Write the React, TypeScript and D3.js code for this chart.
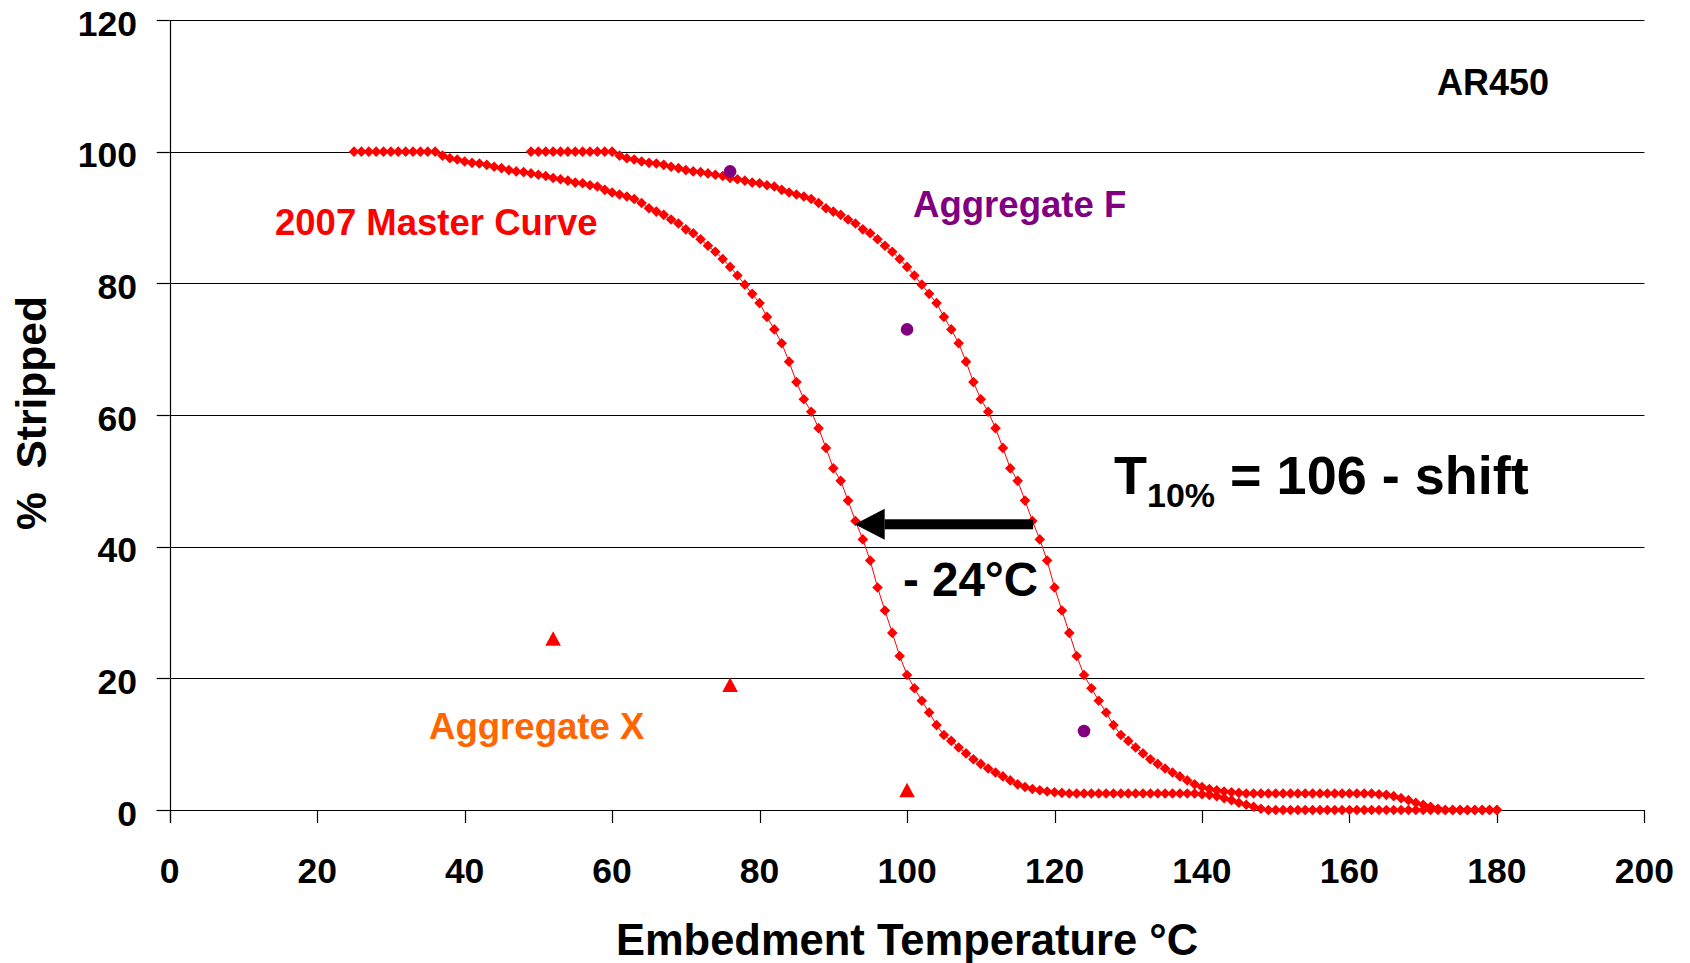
import React from "react";
import * as d3 from "d3";

// ---- Data ----
// 2007 Master Curve (right curve), x from 49 to 180 step 1
const masterStart = 49;
const masterCurve = [
  100, 100, 100, 100, 100, 100, 100, 100, 100, 100, 100, 100, // 49-60
  99.4, 99.0, 98.8, 98.5, 98.3, 98.2, 98.0, 97.7, 97.5, 97.2, // 61-70
  97.0, 96.9, 96.7, 96.5, 96.3, 96.0, 95.8, 95.6, 95.3, 95.2, // 71-80
  94.9, 94.7, 94.2, 93.8, 93.5, 93.2, 92.8, 92.2, 91.4, 90.9, // 81-90
  90.4, 89.7, 89.1, 88.2, 87.6, 86.7, 85.7, 84.8, 83.7, 82.5, // 91-100
  81.2, 79.8, 78.4, 77.0, 74.9, 73.0, 70.9, 68.1, 65.0, 62.4, // 101-110
  60.5, 58.0, 55.0, 51.9, 50.0, 47.0, 43.9, 41.1, 37.9, 33.8, // 111-120
  30.3, 26.9, 23.4, 20.5, 18.5, 16.6, 14.8, 12.9, 11.4, 10.5, // 121-130
  9.5, 8.6, 7.7, 7.0, 6.3, 5.7, 5.1, 4.5, 3.9, 3.5,           // 131-140
  3.2, 3.0, 2.8, 2.7, 2.6, 2.5, 2.5, 2.5, 2.5, 2.5,           // 141-150
  2.5, 2.5, 2.5, 2.5, 2.5, 2.5, 2.5, 2.5, 2.5, 2.5,           // 151-160
  2.5, 2.5, 2.5, 2.4, 2.3, 2.1, 1.8, 1.5, 1.1, 0.8,           // 161-170
  0.5, 0.2, 0, 0, 0, 0, 0, 0, 0, 0,                           // 171-180
];

// Shifted curve (-24 °C), x from 25 to 180 step 1
const shiftedStart = 25;
const shiftedCurve = [
  100, 100, 100, 100, 100, 100, 100, 100, 100, 100, 100, 100, // 25-36
  99.4, 99.0, 98.8, 98.5, 98.3, 98.2, 98.0, 97.7, 97.5, 97.2, // 37-46
  97.0, 96.9, 96.7, 96.5, 96.3, 96.0, 95.8, 95.6, 95.3, 95.2, // 47-56
  94.9, 94.7, 94.2, 93.8, 93.5, 93.2, 92.8, 92.2, 91.4, 90.9, // 57-66
  90.4, 89.7, 89.1, 88.2, 87.6, 86.7, 85.7, 84.8, 83.7, 82.5, // 67-76
  81.2, 79.8, 78.4, 77.0, 74.9, 73.0, 70.9, 68.1, 65.0, 62.4, // 77-86
  60.5, 58.0, 55.0, 51.9, 50.0, 47.0, 43.9, 41.1, 37.9, 33.8, // 87-96
  30.3, 26.9, 23.4, 20.5, 18.5, 16.6, 14.8, 12.9, 11.4, 10.5, // 97-106
  9.5, 8.6, 7.7, 7.0, 6.3, 5.7, 5.1, 4.5, 3.9, 3.5,           // 107-116
  3.2, 3.0, 2.8, 2.7, 2.6, 2.5, 2.5, 2.5, 2.5, 2.5,           // 117-126
  2.5, 2.5, 2.5, 2.5, 2.5, 2.5, 2.5, 2.5, 2.5, 2.5,           // 127-136
  2.5, 2.5, 2.5, 2.4, 2.3, 2.1, 1.8, 1.5, 1.1, 0.8,           // 137-146
  0.5, 0.2, 0, 0, 0, 0, 0, 0, 0, 0,                           // 147-156
  0, 0, 0, 0, 0, 0, 0, 0, 0, 0, 0, 0,                         // 157-168
  0, 0, 0, 0, 0, 0, 0, 0, 0, 0, 0, 0,                         // 169-180
];

const aggFTemps = [76, 100, 124];
const aggFValues = [97, 73, 12];

const aggXTemps = [52, 76, 100];
const aggXValues = [26, 19, 3];

const xTicks = [0, 20, 40, 60, 80, 100, 120, 140, 160, 180, 200];
const yTicks = [0, 20, 40, 60, 80, 100, 120];

const FONT = "'Liberation Sans', Arial, Helvetica, sans-serif";

export default function App() {
  const W = 1690;
  const H = 963;
  const x = d3.scaleLinear().domain([0, 200]).range([169.7, 1644.4]);
  const y = d3.scaleLinear().domain([0, 120]).range([810, 20]);

  const master = masterCurve.map((v, i) => [masterStart + i, v] as [number, number]);
  const shifted = shiftedCurve.map((v, i) => [shiftedStart + i, v] as [number, number]);

  const line = d3
    .line<[number, number]>()
    .x((d) => x(d[0]))
    .y((d) => y(d[1]));

  const dh = 5.3;
  const diamond = `M0,${-dh}L${dh},0L0,${dh}L${-dh},0Z`;
  const tri = `M0,-7.5L7.8,7L-7.8,7Z`;

  const x0 = x(0);
  const x1 = x(200);
  const yBase = y(0);

  const arrowY = y(43.4);
  const arrowTip = x(92.9);
  const arrowTail = x(117.1);

  return (
    <svg
      width={W}
      height={H}
      style={{ position: "absolute", left: 0, top: 0, background: "#fff" }}
      fontFamily={FONT}
    >
      <rect x={0} y={0} width={W} height={H} fill="#fff" />
      {/* gridlines */}
      {yTicks.slice(1).map((t) => (
        <line
          key={"g" + t}
          x1={x0}
          x2={x1}
          y1={Math.round(y(t)) + 0.5}
          y2={Math.round(y(t)) + 0.5}
          stroke="#000"
          strokeWidth={1}
        />
      ))}
      {/* axes */}
      <line x1={Math.round(x0) + 0.5} x2={Math.round(x0) + 0.5} y1={y(120)} y2={yBase + 13} stroke="#000" strokeWidth={1.2} />
      <line x1={x0 - 13} x2={x1} y1={Math.round(yBase) + 0.5} y2={Math.round(yBase) + 0.5} stroke="#000" strokeWidth={1.2} />
      {yTicks.map((t) => (
        <g key={"yt" + t}>
          <line x1={x0 - 13} x2={x0} y1={Math.round(y(t)) + 0.5} y2={Math.round(y(t)) + 0.5} stroke="#000" strokeWidth={1.2} />
          <text x={137} y={y(t) + 15.5} textAnchor="end" fontSize={35.5} fontWeight="bold" fill="#000">
            {t}
          </text>
        </g>
      ))}
      {xTicks.map((t) => (
        <g key={"xt" + t}>
          <line x1={Math.round(x(t)) + 0.5} x2={Math.round(x(t)) + 0.5} y1={yBase} y2={yBase + 13} stroke="#000" strokeWidth={1.2} />
          <text x={x(t)} y={882.7} textAnchor="middle" fontSize={35.5} fontWeight="bold" fill="#000">
            {t}
          </text>
        </g>
      ))}

      {/* curves */}
      <path d={line(shifted) || ""} fill="none" stroke="#ff0000" strokeWidth={1} />
      <path d={line(master) || ""} fill="none" stroke="#ff0000" strokeWidth={1} />
      {shifted.map((d, i) => (
        <path key={"s" + i} d={diamond} transform={`translate(${x(d[0])},${y(d[1])})`} fill="#ff0000" />
      ))}
      {master.map((d, i) => (
        <path key={"m" + i} d={diamond} transform={`translate(${x(d[0])},${y(d[1])})`} fill="#ff0000" />
      ))}

      {/* Aggregate F */}
      {aggFTemps.map((t, i) => (
        <circle key={"f" + i} cx={x(t)} cy={y(aggFValues[i])} r={6.3} fill="#800080" />
      ))}
      {/* Aggregate X */}
      {aggXTemps.map((t, i) => (
        <path key={"xx" + i} d={tri} transform={`translate(${x(t)},${y(aggXValues[i])})`} fill="#ff0000" />
      ))}

      {/* arrow */}
      <rect x={arrowTip + 30} y={arrowY - 5} width={arrowTail - arrowTip - 30} height={10} fill="#000" />
      <path d={`M${arrowTip},${arrowY}L${arrowTip + 30},${arrowY - 15.5}L${arrowTip + 30},${arrowY + 15.5}Z`} fill="#000" />

      {/* annotations */}
      <text x={1437} y={95} fontSize={36} fontWeight="bold" fill="#000">AR450</text>
      <text x={275} y={235} fontSize={36.5} fontWeight="bold" fill="#ff0000">2007 Master Curve</text>
      <text x={913} y={216.6} fontSize={36.6} fontWeight="bold" fill="#800080">Aggregate F</text>
      <text x={429} y={739} fontSize={36.6} fontWeight="bold" fill="#ff6600">Aggregate X</text>
      <text x={1114} y={494} fontSize={54} fontWeight="bold" fill="#000">
        T<tspan fontSize={34} dy={13.3}>10%</tspan>
        <tspan dy={-13.3}> = 106 - shift</tspan>
      </text>
      <text x={903} y={596} fontSize={47.5} fontWeight="bold" fill="#000">- 24°C</text>

      {/* axis titles */}
      <text
        transform={`translate(46,413) rotate(-90)`}
        textAnchor="middle"
        fontSize={42.5}
        fontWeight="bold"
        fill="#000"
        style={{ whiteSpace: "pre" }}
      >
        {"%  Stripped"}
      </text>
      <text x={907} y={955} textAnchor="middle" fontSize={43.5} fontWeight="bold" fill="#000">
        Embedment Temperature °C
      </text>
    </svg>
  );
}
